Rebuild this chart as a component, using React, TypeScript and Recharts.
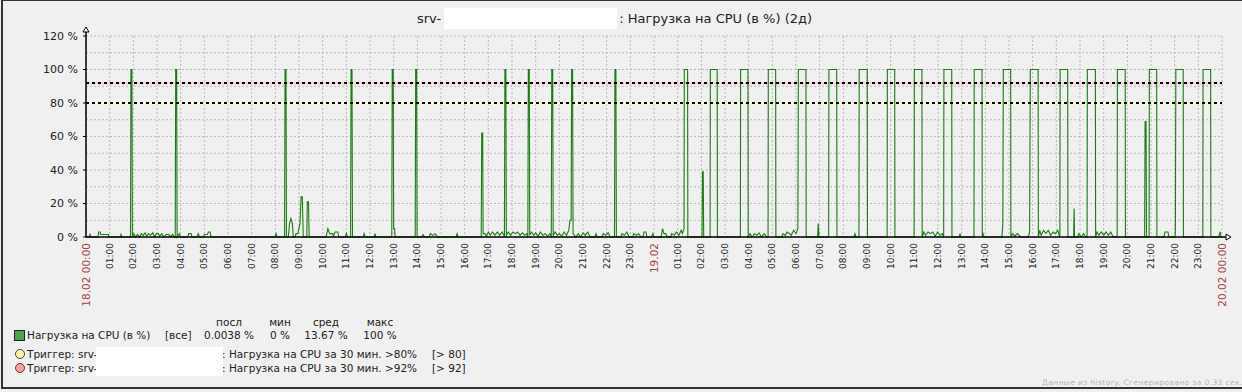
import { CartesianGrid, Line, LineChart, ReferenceLine, XAxis, YAxis } from "recharts";

const FONT = '"DejaVu Sans", Verdana, sans-serif';

// hours since 18.02 00:00 -> CPU load, %
const cpuLoad: [number, number][] = [
  [0, 0], [0.15, 0], [0.17, 2], [0.2, 0], [0.5, 0], [0.54, 3], [0.6, 3], [0.62, 1.5], [0.95, 1.5], [0.97, 0],
  [1.46, 0], [1.48, 1.5], [1.52, 0],
  [1.88, 0], [1.9, 100], [1.94, 100], [1.96, 0],
  [2.02, 2], [2.08, 0], [2.18, 1.5], [2.26, 0], [2.34, 2], [2.42, 1], [2.5, 2.5], [2.56, 0.5], [2.64, 2], [2.72, 1],
  [2.82, 2.5], [2.9, 0], [2.98, 2], [3.06, 2], [3.12, 0.5], [3.2, 2], [3.28, 0], [3.4, 1.5], [3.5, 1.5], [3.56, 0],
  [3.66, 1.5], [3.72, 0],
  [3.77, 0], [3.79, 100], [3.83, 100], [3.85, 0],
  [3.94, 2], [4.0, 0], [4.3, 0], [4.34, 2], [4.44, 2], [4.48, 0], [4.7, 0], [4.74, 2], [4.8, 0], [4.96, 0],
  [5.0, 1.5], [5.12, 1.5], [5.18, 3], [5.25, 3], [5.28, 0],
  [7.98, 0], [8.03, 2], [8.08, 0],
  [8.39, 0], [8.41, 100], [8.45, 100], [8.47, 0],
  [8.55, 0], [8.6, 8], [8.66, 11], [8.72, 8], [8.76, 0], [8.84, 0], [8.87, 2], [8.95, 2], [9.04, 8], [9.09, 24],
  [9.14, 24], [9.18, 0], [9.33, 0], [9.35, 21], [9.4, 21], [9.43, 0],
  [10.14, 0], [10.22, 5], [10.3, 2], [10.42, 2], [10.46, 0.5], [10.52, 3], [10.64, 3], [10.68, 0],
  [10.96, 0], [11.0, 2], [11.05, 0],
  [11.18, 0], [11.2, 100], [11.24, 100], [11.26, 0],
  [11.72, 0], [11.75, 2], [11.8, 0], [12.18, 0], [12.21, 2], [12.25, 0],
  [12.92, 0], [12.94, 100], [12.98, 100], [13.0, 5], [13.04, 5], [13.06, 0],
  [13.91, 0], [13.93, 100], [13.97, 100], [13.99, 0],
  [14.2, 0], [14.24, 1.5], [14.3, 0], [14.5, 0], [14.55, 2], [14.65, 1], [14.75, 2], [14.85, 0],
  [15.64, 0], [15.68, 2], [15.72, 0],
  [16.7, 0], [16.72, 62], [16.76, 62], [16.78, 2],
  [16.86, 2], [16.92, 0.5], [17.0, 3], [17.08, 1], [17.18, 3], [17.28, 1], [17.38, 3], [17.48, 1], [17.58, 3], [17.66, 1],
  [17.68, 0], [17.7, 100], [17.74, 100], [17.76, 1],
  [17.84, 3], [17.94, 1], [18.04, 3], [18.14, 2], [18.24, 3], [18.34, 1], [18.44, 2.5], [18.54, 1], [18.62, 2],
  [18.67, 0], [18.69, 100], [18.73, 100], [18.75, 1],
  [18.82, 3], [18.92, 1], [19.0, 2.5], [19.1, 0.5], [19.2, 3], [19.3, 1], [19.4, 2], [19.5, 0.5], [19.6, 2],
  [19.66, 0], [19.68, 100], [19.72, 100], [19.74, 1],
  [19.82, 3], [19.92, 1], [20.0, 2], [20.1, 0.5], [20.2, 3], [20.3, 1], [20.4, 4], [20.45, 10], [20.5, 10],
  [20.52, 100], [20.56, 100], [20.58, 2],
  [20.7, 0], [20.8, 2], [20.9, 0], [21.0, 2.5], [21.1, 1], [21.2, 3], [21.3, 0], [21.5, 0], [21.55, 2], [21.6, 0],
  [21.8, 0], [21.86, 2], [21.96, 1], [22.06, 2.5], [22.15, 0],
  [22.33, 0], [22.35, 100], [22.39, 100], [22.41, 0],
  [22.6, 0], [22.65, 2], [22.75, 1], [22.85, 3], [22.95, 0], [23.1, 0], [23.15, 2], [23.25, 1], [23.35, 2], [23.45, 0],
  [23.54, 0], [23.58, 3], [23.66, 3], [23.7, 0], [23.9, 0], [23.95, 2], [24.0, 0],
  // 19.02
  [24.3, 0], [24.36, 5], [24.42, 2], [24.5, 2], [24.55, 0], [24.7, 0], [24.75, 2], [24.85, 1], [24.95, 3], [25.05, 1],
  [25.15, 4], [25.2, 2], [25.27, 5],
  [25.28, 100], [25.42, 100], [25.43, 0],
  [26.03, 0], [26.05, 39], [26.08, 39], [26.1, 0],
  [26.37, 0], [26.38, 100], [26.67, 100], [26.68, 0],
  [27.65, 0], [27.66, 100], [27.97, 100], [27.98, 0],
  [28.06, 2], [28.14, 0], [28.24, 2], [28.34, 1], [28.44, 2.5], [28.54, 0], [28.66, 2], [28.76, 0],
  [28.82, 0], [28.83, 100], [29.14, 100], [29.15, 0],
  [29.4, 0], [29.45, 2], [29.55, 1], [29.62, 3], [29.72, 2], [29.8, 1], [29.9, 4], [30.0, 2], [30.08, 5],
  [30.1, 100], [30.42, 100], [30.43, 0],
  [30.91, 0], [30.94, 8], [30.97, 0],
  [31.38, 0], [31.39, 100], [31.72, 100], [31.73, 0],
  [32.45, 0], [32.49, 2], [32.53, 0],
  [32.66, 0], [32.67, 100], [33.01, 100], [33.02, 0],
  [33.85, 0], [33.86, 100], [34.17, 100], [34.18, 0],
  [34.99, 0], [35.0, 100], [35.32, 100], [35.33, 0],
  [35.4, 3], [35.48, 1], [35.58, 3], [35.68, 2], [35.78, 3], [35.88, 0.5], [35.98, 3], [36.08, 1], [36.18, 2], [36.23, 0],
  [36.24, 0], [36.25, 100], [36.58, 100], [36.59, 0],
  [36.9, 0], [36.93, 2], [36.97, 0],
  [37.52, 0], [37.53, 100], [37.86, 100], [37.87, 0],
  [37.9, 2], [37.95, 0], [38.7, 0], [38.74, 8],
  [38.76, 100], [39.07, 100], [39.08, 0],
  [39.15, 2], [39.25, 0.5], [39.35, 2], [39.5, 0], [39.82, 0], [39.87, 3],
  [39.9, 100], [40.23, 100], [40.24, 0],
  [40.3, 4], [40.36, 1], [40.46, 4], [40.56, 2], [40.66, 4], [40.76, 1], [40.86, 3], [40.96, 2], [41.06, 4], [41.12, 1],
  [41.15, 0], [41.16, 100], [41.48, 100], [41.49, 0],
  [41.73, 0], [41.75, 17], [41.77, 0], [41.9, 0], [41.95, 2], [42.05, 0], [42.15, 2], [42.25, 0],
  [42.3, 0], [42.31, 100], [42.65, 100], [42.66, 0],
  [42.72, 3], [42.8, 1], [42.9, 3], [43.0, 1], [43.1, 3], [43.2, 1], [43.3, 3], [43.4, 0],
  [43.57, 0], [43.58, 100], [43.91, 100], [43.92, 0],
  [44.73, 0], [44.75, 69], [44.79, 69], [44.81, 0],
  [44.92, 0], [44.93, 100], [45.24, 100], [45.25, 0],
  [45.55, 0], [45.59, 3], [45.72, 3], [45.75, 0], [46.0, 0], [46.03, 2],
  [46.05, 100], [46.36, 100], [46.37, 0],
  [47.19, 0], [47.2, 100], [47.52, 100], [47.53, 0],
  [47.86, 0], [47.92, 3], [47.96, 0], [48, 0],
];

const yTicks = [0, 10, 20, 30, 40, 50, 60, 70, 80, 90, 100, 110, 120];
const hourTicks = Array.from({ length: 49 }, (_, i) => i);
const dayLabels: Record<number, string> = { 0: "18.02 00:00", 24: "19.02", 48: "20.02 00:00" };

const triggers = [
  { level: 80, text: ": Нагрузка на CPU за 30 мин. >80%", cond: "[> 80]", color: "#fff6a5", halo: "#f9f8dc" },
  { level: 92, text: ": Нагрузка на CPU за 30 мин. >92%", cond: "[> 92]", color: "#ff9f9f", halo: "#f3d7da" },
];

const statNames = ["посл", "мин", "сред", "макс"];
const statValues = ["0.0038 %", "0 %", "13.67 %", "100 %"];

const series = cpuLoad.map(([t, v]) => ({ t, v }));

function HourTick({ x, y, payload }: any) {
  const day = dayLabels[payload.value];
  const label = day ?? `${String(payload.value % 24).padStart(2, "0")}:00`;
  return (
    <text
      x={x}
      y={y}
      transform={`rotate(-90 ${x} ${y})`}
      textAnchor="end"
      dominantBaseline="central"
      fontFamily={FONT}
      fontSize={day ? 10.5 : 9}
      fill={day ? "#aa4444" : "#222"}
    >
      {label}
    </text>
  );
}

function PercentTick({ x, y, payload }: any) {
  if (payload.value % 20 !== 0) return <g />;
  return (
    <g>
      <line x1={x + 5} x2={x + 8} y1={y} y2={y} stroke="#000" />
      <text x={x} y={y} textAnchor="end" dominantBaseline="central" fontFamily={FONT} fontSize={11} fill="#222">
        {payload.value} %
      </text>
    </g>
  );
}

const abs = (left: number, top: number, extra: object = {}) =>
  ({ position: "absolute", left, top, lineHeight: "14px", whiteSpace: "nowrap", ...extra }) as const;

export default function App() {
  const statCenters = [229, 280, 326, 380];
  return (
    <div
      style={{
        position: "relative",
        width: 1242,
        height: 392,
        overflow: "hidden",
        background: "#f0f0f0",
        fontFamily: FONT,
        color: "#222",
      }}
    >
      <style>{"body{margin:0}"}</style>
      <div
        style={{
          position: "absolute",
          left: 1,
          top: 0,
          width: 1260,
          height: 386,
          borderTop: "1px solid #333",
          borderLeft: "2px solid #333",
          borderBottom: "2px solid #333",
        }}
      />

      <div style={abs(417, 8, { fontSize: 13, lineHeight: "21px" })}>
        srv-
        <span
          style={{ display: "inline-block", width: 173, height: 21, background: "#fff", verticalAlign: "top", marginLeft: 3, marginRight: 2 }}
        />
        : Нагрузка на CPU (в %) (2д)
      </div>

      <div style={{ position: "absolute", left: 0, top: 0 }}>
        <LineChart width={1242} height={392} data={series} margin={{ top: 36, right: 20, bottom: 85, left: 0 }}>
          <CartesianGrid stroke="#b8b8b8" strokeDasharray="2 2" />
          <XAxis
            type="number"
            dataKey="t"
            domain={[0, 48]}
            ticks={hourTicks}
            interval={0}
            height={70}
            tickSize={0}
            tickMargin={6}
            axisLine={{ stroke: "#000", strokeWidth: 1.5 }}
            tickLine={false}
            tick={<HourTick />}
          />
          <YAxis
            type="number"
            domain={[0, 120]}
            ticks={yTicks}
            interval={0}
            width={86}
            tickSize={0}
            tickMargin={8}
            axisLine={{ stroke: "#000", strokeWidth: 1.5 }}
            tickLine={false}
            tick={<PercentTick />}
          />
          {triggers.map((tr) => (
            <ReferenceLine key={`h${tr.level}`} y={tr.level} stroke={tr.halo} strokeWidth={3} />
          ))}
          <Line
            type="linear"
            dataKey="v"
            stroke="#1A7C11"
            strokeWidth={1.1}
            dot={false}
            activeDot={false}
            isAnimationActive={false}
          />
          {triggers.map((tr) => (
            <ReferenceLine key={`d${tr.level}`} y={tr.level} stroke="#000" strokeWidth={2} strokeDasharray="3 3" />
          ))}
        </LineChart>
      </div>

      <svg width={1242} height={392} style={{ position: "absolute", left: 0, top: 0, pointerEvents: "none" }}>
        <line x1={86} x2={86} y1={31} y2={36} stroke="#000" strokeWidth={1.5} />
        <polygon points="83,32 86,27 89,32" fill="#fff" stroke="#000" />
        <line x1={1222} x2={1226} y1={237} y2={237} stroke="#000" strokeWidth={1.5} />
        <polygon points="1226,234 1231,237 1226,240" fill="#fff" stroke="#000" />
      </svg>

      <div style={{ fontSize: 10.5 }}>
        {statNames.map((n, i) => (
          <div key={n} style={abs(statCenters[i] - 40, 315, { width: 80, textAlign: "center" })}>
            {n}
          </div>
        ))}
        <div style={abs(14, 330, { width: 9, height: 9, background: "#4da64d", border: "1px solid #222" })} />
        <div style={abs(27, 328)}>Нагрузка на CPU (в %)</div>
        <div style={abs(165, 328)}>[все]</div>
        {statValues.map((v, i) => (
          <div key={i} style={abs(statCenters[i] - 40, 328, { width: 80, textAlign: "center" })}>
            {v}
          </div>
        ))}
        {triggers.map((tr, i) => {
          const top = 347 + i * 14;
          return (
            <div key={tr.level}>
              <div
                style={abs(15, top + 2, { width: 8, height: 8, borderRadius: "50%", background: tr.color, border: "1px solid #444" })}
              />
              <div style={abs(27, top)}>Триггер: srv-</div>
              <div style={abs(222, top)}>{tr.text}</div>
              <div style={abs(432, top)}>{tr.cond}</div>
            </div>
          );
        })}
        <div style={abs(96, 347, { width: 127, height: 29, background: "#fff" })} />
      </div>

      <div style={abs(1042, 376, { fontSize: 7.5, letterSpacing: 0.4, color: "#b4b4b4" })}>
        Данные из history. Сгенерировано за 0.33 сек.
      </div>
    </div>
  );
}
